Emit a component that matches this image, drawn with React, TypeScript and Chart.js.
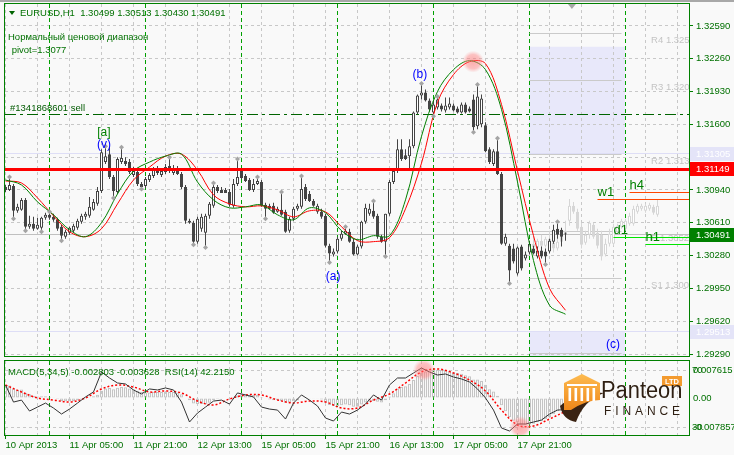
import React, { useEffect, useRef } from 'react';
import { Chart, registerables } from 'chart.js';

Chart.register(...registerables);

// ---------------- data ----------------
const symbol = 'EURUSD,H1';

const opens = [
  1.3097, 1.3094, 1.3098, 1.3073, 1.3074, 1.3084, 1.3057, 1.3060, 1.3055, 1.3056,
  1.3066, 1.3069, 1.3067, 1.3064, 1.3057, 1.3047, 1.3051, 1.3053, 1.3056, 1.3062,
  1.3067, 1.3068, 1.3074, 1.3080, 1.3093, 1.3122, 1.3130, 1.3107, 1.3092, 1.3122,
  1.3123, 1.3122, 1.3109, 1.3112, 1.3100, 1.3098, 1.3104, 1.3108, 1.3115, 1.3109,
  1.3112, 1.3118, 1.3111, 1.3116, 1.3110, 1.3097, 1.3063, 1.3061, 1.3042, 1.3055,
  1.3051, 1.3068, 1.3078, 1.3097, 1.3094, 1.3094, 1.3092, 1.3078, 1.3100, 1.3113,
  1.3108, 1.3104, 1.3094, 1.3100, 1.3102, 1.3079, 1.3078, 1.3078, 1.3072, 1.3074,
  1.3072, 1.3053, 1.3065, 1.3075, 1.3077, 1.3097, 1.3090, 1.3083, 1.3072, 1.3072,
  1.3068, 1.3038, 1.3029, 1.3032, 1.3045, 1.3050, 1.3052, 1.3042, 1.3029, 1.3037,
  1.3062, 1.3070, 1.3073, 1.3068, 1.3047, 1.3042, 1.3070, 1.3102, 1.3113, 1.3135,
  1.3129, 1.3128, 1.3138, 1.3172, 1.3189, 1.3192, 1.3184, 1.3172, 1.3177, 1.3179,
  1.3174, 1.3177, 1.3179, 1.3176, 1.3172, 1.3180, 1.3176, 1.3185, 1.3158, 1.3160,
  1.3159, 1.3135, 1.3120, 1.3133, 1.3110, 1.3040, 1.3038, 1.3035, 1.3010, 1.3037,
  1.3025, 1.3031, 1.3035, 1.3027, 1.3033, 1.3032, 1.3032, 1.3042, 1.3055, 1.3054, 1.30499,
];
const highs = [
  1.3099, 1.3107, 1.3100, 1.3080, 1.3086, 1.3086, 1.3068, 1.3067, 1.3066, 1.3067,
  1.3071, 1.3072, 1.3070, 1.3066, 1.3059, 1.3054, 1.3057, 1.3060, 1.3065, 1.3070,
  1.3072, 1.3087, 1.3085, 1.3097, 1.3135, 1.3138, 1.3137, 1.3109, 1.3127, 1.3137,
  1.3127, 1.3125, 1.3117, 1.3115, 1.3102, 1.3107, 1.3111, 1.3117, 1.3118, 1.3115,
  1.3120, 1.3127, 1.3119, 1.3118, 1.3112, 1.3099, 1.3065, 1.3063, 1.3067, 1.3070,
  1.3070, 1.3082, 1.3101, 1.3099, 1.3097, 1.3096, 1.3095, 1.3105, 1.3125, 1.3115,
  1.3110, 1.3106, 1.3105, 1.3107, 1.3104, 1.3081, 1.3080, 1.3081, 1.3077, 1.3092,
  1.3074, 1.3067, 1.3077, 1.3080, 1.3108, 1.3100, 1.3093, 1.3085, 1.3080, 1.3075,
  1.3070, 1.3040, 1.3035, 1.3047, 1.3053, 1.3057, 1.3055, 1.3045, 1.3039, 1.3063,
  1.3080, 1.3080, 1.3083, 1.3070, 1.3049, 1.3070, 1.3104, 1.3113, 1.3145, 1.3145,
  1.3135, 1.3145, 1.3173, 1.3190, 1.3201, 1.3195, 1.3186, 1.3185, 1.3188, 1.3181,
  1.3187, 1.3187, 1.3181, 1.3178, 1.3182, 1.3182, 1.3178, 1.3190, 1.3200, 1.3190,
  1.3162, 1.3137, 1.3135, 1.3146, 1.3112, 1.3050, 1.3040, 1.3040, 1.3037, 1.3039,
  1.3032, 1.3043, 1.3038, 1.3037, 1.3037, 1.3035, 1.3045, 1.3059, 1.3062, 1.3056, 1.30513,
];
const lows = [
  1.3092, 1.3093, 1.3065, 1.3071, 1.3073, 1.3053, 1.3055, 1.3053, 1.3054, 1.3052,
  1.3064, 1.3064, 1.3062, 1.3053, 1.3043, 1.3045, 1.3049, 1.3051, 1.3054, 1.3060,
  1.3064, 1.3066, 1.3073, 1.3078, 1.3091, 1.3120, 1.3105, 1.3086, 1.3090, 1.3120,
  1.3118, 1.3110, 1.3107, 1.3098, 1.3095, 1.3096, 1.3102, 1.3106, 1.3109, 1.3107,
  1.3110, 1.3111, 1.3109, 1.3109, 1.3095, 1.3060, 1.3060, 1.3039, 1.3040, 1.3052,
  1.3036, 1.3065, 1.3076, 1.3091, 1.3091, 1.3091, 1.3077, 1.3076, 1.3098, 1.3105,
  1.3102, 1.3093, 1.3092, 1.3099, 1.3077, 1.3065, 1.3074, 1.3070, 1.3071, 1.3068,
  1.3051, 1.3051, 1.3063, 1.3073, 1.3075, 1.3083, 1.3082, 1.3077, 1.3070, 1.3065,
  1.3036, 1.3021, 1.3027, 1.3030, 1.3043, 1.3049, 1.3041, 1.3028, 1.3028, 1.3035,
  1.3060, 1.3068, 1.3065, 1.3045, 1.3041, 1.3027, 1.3068, 1.3100, 1.3111, 1.3123,
  1.3124, 1.3113, 1.3136, 1.3170, 1.3185, 1.3183, 1.3173, 1.3168, 1.3175, 1.3173,
  1.3172, 1.3175, 1.3173, 1.3171, 1.3171, 1.3171, 1.3172, 1.3152, 1.3155, 1.3157,
  1.3132, 1.3120, 1.3118, 1.3109, 1.3039, 1.3038, 1.3000, 1.3020, 1.3008, 1.3013,
  1.3023, 1.3029, 1.3029, 1.3025, 1.3025, 1.3019, 1.3030, 1.3040, 1.3045, 1.3037, 1.30430,
];
const closes = [
  1.3094, 1.3099, 1.3073, 1.3077, 1.3084, 1.3057, 1.3060, 1.3055, 1.3059, 1.3066,
  1.3069, 1.3066, 1.3064, 1.3055, 1.3048, 1.3052, 1.3056, 1.3058, 1.3063, 1.3068,
  1.3070, 1.3077, 1.3082, 1.3093, 1.3132, 1.3128, 1.3107, 1.3093, 1.3125, 1.3126,
  1.3120, 1.3112, 1.3113, 1.3100, 1.3097, 1.3105, 1.3109, 1.3115, 1.3111, 1.3113,
  1.3117, 1.3113, 1.3115, 1.3110, 1.3097, 1.3063, 1.3061, 1.3042, 1.3065, 1.3067,
  1.3068, 1.3080, 1.3097, 1.3093, 1.3091, 1.3091, 1.3079, 1.3100, 1.3107, 1.3106,
  1.3103, 1.3094, 1.3100, 1.3103, 1.3078, 1.3075, 1.3075, 1.3071, 1.3075, 1.3069,
  1.3052, 1.3065, 1.3075, 1.3078, 1.3095, 1.3085, 1.3083, 1.3078, 1.3078, 1.3067,
  1.3038, 1.3030, 1.3032, 1.3045, 1.3050, 1.3053, 1.3042, 1.3029, 1.3037, 1.3062,
  1.3076, 1.3075, 1.3067, 1.3047, 1.3042, 1.3070, 1.3102, 1.3113, 1.3135, 1.3125,
  1.3125, 1.3138, 1.3172, 1.3189, 1.3192, 1.3184, 1.3175, 1.3180, 1.3185, 1.3175,
  1.3179, 1.3181, 1.3174, 1.3172, 1.3180, 1.3172, 1.3173, 1.3157, 1.3188, 1.3186,
  1.3133, 1.3122, 1.3133, 1.3110, 1.3040, 1.3047, 1.3013, 1.3022, 1.3036, 1.3015,
  1.3029, 1.3040, 1.3030, 1.3033, 1.3027, 1.3027, 1.3043, 1.3054, 1.3049, 1.3047, 1.30491,
];

// faint projected (analog) candles, starting at bar 131
const ghostFirstBar = 131;
const ghostOpens = [1.3035, 1.3040, 1.3036, 1.3043, 1.3038, 1.3045, 1.3041, 1.3035, 1.3042, 1.3053, 1.3063, 1.3078, 1.3072, 1.3057, 1.3041, 1.3049, 1.3059, 1.3051, 1.3049, 1.3029, 1.3040, 1.3040, 1.3052, 1.3057, 1.3055, 1.3060, 1.3060, 1.3072, 1.3075, 1.3073, 1.3075, 1.3077, 1.3069];
const ghostHighs = [1.3042, 1.3047, 1.3045, 1.3049, 1.3047, 1.3053, 1.3049, 1.3045, 1.3055, 1.3063, 1.3085, 1.3082, 1.3075, 1.3061, 1.3053, 1.3063, 1.3061, 1.3055, 1.3053, 1.3045, 1.3055, 1.3060, 1.3060, 1.3065, 1.3065, 1.3071, 1.3078, 1.3080, 1.3080, 1.3080, 1.3081, 1.3079, 1.3084];
const ghostLows = [1.3030, 1.3033, 1.3034, 1.3035, 1.3036, 1.3039, 1.3031, 1.3033, 1.3040, 1.3045, 1.3058, 1.3070, 1.3053, 1.3035, 1.3039, 1.3045, 1.3045, 1.3035, 1.3023, 1.3027, 1.3037, 1.3038, 1.3050, 1.3055, 1.3053, 1.3058, 1.3058, 1.3070, 1.3073, 1.3071, 1.3073, 1.3069, 1.3067];
const ghostCloses = [1.3040, 1.3036, 1.3043, 1.3038, 1.3045, 1.3041, 1.3035, 1.3042, 1.3053, 1.3049, 1.3078, 1.3072, 1.3055, 1.3039, 1.3049, 1.3061, 1.3047, 1.3038, 1.3027, 1.3040, 1.3050, 1.3057, 1.3058, 1.3063, 1.3063, 1.3068, 1.3075, 1.3078, 1.3078, 1.3078, 1.3079, 1.3071, 1.3078];

// moving averages, read every 4 bars
const maBars = [0, 4, 8, 12, 16, 20, 24, 28, 32, 36, 40, 44, 48, 52, 56, 60, 64, 68, 72, 76, 80, 84, 88, 92, 96, 100, 104, 108, 112, 116, 120, 124, 128, 132, 136, 140];
const maGreen = [1.3104, 1.3099, 1.3082, 1.3069, 1.3054, 1.3047, 1.3061, 1.3090, 1.3113, 1.3122, 1.3128, 1.3130, 1.3102, 1.3084, 1.3076, 1.3077, 1.3079, 1.3069, 1.3064, 1.3076, 1.3071, 1.3053, 1.3044, 1.3048, 1.3048, 1.3084, 1.3148, 1.3193, 1.3215, 1.3224, 1.3215, 1.3175, 1.3102, 1.3023, 1.2978, 1.2969];
const maRed = [1.3103, 1.3101, 1.3086, 1.3068, 1.3052, 1.3047, 1.3055, 1.3080, 1.3104, 1.3117, 1.3128, 1.3130, 1.3114, 1.3089, 1.3080, 1.3077, 1.3078, 1.3074, 1.3067, 1.3073, 1.3072, 1.3057, 1.3043, 1.3042, 1.3046, 1.3075, 1.3121, 1.3182, 1.3210, 1.3223, 1.3221, 1.3180, 1.3113, 1.3048, 1.2995, 1.2973];

const fractalUpBars = [1, 11, 25, 29, 41, 52, 58, 63, 69, 74, 85, 92, 104, 108, 118, 123, 138];
const fractalDownBars = [2, 5, 9, 14, 27, 34, 47, 50, 65, 81, 95, 107, 117, 126, 135];

// indicator window
const rsiBars = Array.from({ length: 71 }, (_, k) => k * 2);
const rsiValues = [
  59.5, 47.5, 48.9, 41.2, 44.0, 46.8, 43.3, 39.1, 42.6, 46.8,
  51.1, 54.6, 68.6, 64.4, 60.9, 60.2, 56.0, 53.2, 56.7, 56.0,
  57.4, 56.0, 47.5, 33.5, 39.8, 44.0, 48.2, 48.9, 46.1, 53.9,
  52.5, 51.1, 44.0, 42.6, 41.9, 35.6, 46.8, 52.5, 48.9, 44.7,
  36.3, 34.2, 40.5, 39.1, 41.9, 46.1, 52.5, 48.9, 59.5, 64.4,
  64.4, 67.9, 71.4, 68.6, 66.5, 67.2, 65.1, 63.7, 61.6, 56.7,
  50.4, 41.9, 29.3, 27.2, 32.1, 32.1, 33.5, 34.9, 39.1, 41.9, 42.2,
];
const signalValues = [0.00354, 0.00163, 0.0, -0.00054, -0.00109, 0.0, 0.00245, 0.00354, 0.00299, 0.00163, 0.0019, 0.00136, -0.00082, -0.0019, -0.00027, 0.00082, 0.00082, -0.00054, -0.00136, -0.00082, -0.00109, -0.00272, -0.00272, -0.00054, 0.00109, 0.00408, 0.00707, 0.00789, 0.0068, 0.0049, 0.0019, -0.00326, -0.00734, -0.00761, -0.00571, -0.003628];
const macdValues = [
  0.0036, 0.0034, 0.0025, 0.0022, 0.0023, 0.0014, 0.0010, 0.0006, 0.0004, 0.0005,
  0.0005, 0.0003, 0.0001, -0.0003, -0.0008, -0.0009, -0.0009, -0.0008, -0.0006, -0.0003,
  -0.0001, 0.0002, 0.0005, 0.0009, 0.0020, 0.0026, 0.0027, 0.0024, 0.0028, 0.0030,
  0.0029, 0.0026, 0.0024, 0.0020, 0.0016, 0.0015, 0.0015, 0.0017, 0.0016, 0.0016,
  0.0017, 0.0016, 0.0016, 0.0015, 0.0010, 0.0000, -0.0006, -0.0015, -0.0016, -0.0016,
  -0.0017, -0.0013, -0.0006, -0.0003, -0.0001, 0.0000, -0.0003, 0.0002, 0.0007, 0.0010,
  0.0010, 0.0008, 0.0008, 0.0009, 0.0003, -0.0002, -0.0004, -0.0006, -0.0006, -0.0008,
  -0.0013, -0.0012, -0.0009, -0.0007, -0.0001, 0.0000, -0.0001, -0.0002, -0.0002, -0.0004,
  -0.0012, -0.0019, -0.0022, -0.0022, -0.0020, -0.0018, -0.0020, -0.0024, -0.0024, -0.0018,
  -0.0012, -0.0009, -0.0008, -0.0010, -0.0012, -0.0006, 0.0004, 0.0013, 0.0026, 0.0030,
  0.0032, 0.0038, 0.0049, 0.0060, 0.0068, 0.0072, 0.0075, 0.0076, 0.0077, 0.0076,
  0.0075, 0.0073, 0.0070, 0.0068, 0.0066, 0.0062, 0.0059, 0.0050, 0.0050, 0.0046,
  0.0036, 0.0024, 0.0018, 0.0006, -0.0020, -0.0036, -0.0052, -0.0062, -0.0066, -0.0072,
  -0.0073, -0.0072, -0.0070, -0.0066, -0.0063, -0.0058, -0.0052, -0.0044, -0.0036, -0.0031, -0.002803,
];
const rsiLast = 42.215;

const priceTicks = [1.3259, 1.3226, 1.3193, 1.316, 1.3127, 1.3094, 1.3061, 1.3028, 1.2995, 1.2962, 1.2929];
const macdTicks = [0.007615, 0, -0.007857];
const rsiLevels = [70, 30];
const timeTickBars = [0, 16, 32, 48, 64, 80, 96, 112, 128];
const timeTickLabels = ['10 Apr 2013', '11 Apr 05:00', '11 Apr 21:00', '12 Apr 13:00', '15 Apr 05:00', '15 Apr 21:00', '16 Apr 13:00', '17 Apr 05:00', '17 Apr 21:00'];
const daySeparatorBars = [11, 35, 59, 83, 107, 131, 155];

const resistanceLine = 1.31149;
const sellOrderPrice = 1.317;
const sellOrderLabel = '#1341868601 sell';
const rangeLines = [1.31305, 1.29513];
const pivotValue = 1.3077;
const rangeBoxes = [
  { fromBar: 131, toBar: 155, high: 1.3238, low: 1.31305 },
  { fromBar: 131, toBar: 155, high: 1.29513, low: 1.29 },
];
const pivotLevels = [
  { name: 'R4', price: 1.3251 },
  { name: 'R3', price: 1.3204 },
  { name: 'R2', price: 1.313 },
  { name: 'P', price: 1.3052 },
  { name: 'S1', price: 1.3005 },
  { name: 'S2', price: 1.293 },
];
const tfLevels = [
  { name: 'w1', price: 1.3084, fromBar: 148, kind: 'res' },
  { name: 'h4', price: 1.3091, fromBar: 156, kind: 'res' },
  { name: 'd1', price: 1.3046, fromBar: 152, kind: 'sup' },
  { name: 'h1', price: 1.3039, fromBar: 160, kind: 'sup' },
];
const waveLabels = [
  { text: '[a]', bar: 24.6, price: 1.3152, kind: 'green' },
  { text: '(v)', bar: 24.6, price: 1.314, kind: 'blue' },
  { text: '(a)', bar: 81.9, price: 1.3007, kind: 'blue' },
  { text: '(b)', bar: 103.6, price: 1.321, kind: 'blue' },
  { text: '(c)', bar: 151.9, price: 1.2938, kind: 'blue' },
];
const priceHighlights = [{ bar: 116.9, price: 1.3223 }];
const rsiHighlights = [{ bar: 104.6, value: 70 }, { bar: 128.7, value: 30 }];

// ---------------- styles ----------------
const FONT = '"Liberation Sans", Arial, sans-serif';
const BG = '#f9f9f9';
const GREEN = '#008000';
const SEP_GREEN = '#00a000';
const TEXT_GREEN = '#007000';
const GRID = '#c8c8c8';
const CANDLE = '#444444';
const GHOST = '#d6d6d6';
const LAV = '#e8e8fa';
const LAV_LABEL = '#e4e4f8';
const X_MIN = -0.125;
const X_MAX = 170.875;
const P_MIN = 1.2927;
const P_MAX = 1.3281;
const M_LIM = 0.010063;
const RSI_MIN = 24.39;
const RSI_MAX = 76.32;

const crisp = (v: number) => Math.round(v - 0.5) + 0.5;

function glow(ctx: any, x: number, y: number) {
  const g = ctx.createRadialGradient(x, y, 0, x, y, 11);
  g.addColorStop(0, 'rgba(255,110,110,0.55)');
  g.addColorStop(0.65, 'rgba(255,125,125,0.45)');
  g.addColorStop(1, 'rgba(255,160,160,0)');
  ctx.fillStyle = g;
  ctx.beginPath();
  ctx.arc(x, y, 11, 0, Math.PI * 2);
  ctx.fill();
}

function drawVerticalGrid(ctx: any, xs: any, a: any) {
  ctx.lineWidth = 1;
  ctx.strokeStyle = GRID;
  ctx.setLineDash([3, 3]);
  for (let b = 0; b <= X_MAX; b += 8) {
    const px = crisp(xs.getPixelForValue(b));
    ctx.beginPath(); ctx.moveTo(px, a.top); ctx.lineTo(px, a.bottom); ctx.stroke();
  }
  ctx.strokeStyle = SEP_GREEN;
  ctx.setLineDash([4, 3]);
  daySeparatorBars.forEach((b) => {
    const px = crisp(xs.getPixelForValue(b));
    ctx.beginPath(); ctx.moveTo(px, a.top); ctx.lineTo(px, a.bottom); ctx.stroke();
  });
  ctx.setLineDash([]);
}

const mainDecor = {
  id: 'mainDecor',
  beforeDatasetsDraw(chart: any) {
    const { ctx, chartArea: a } = chart;
    const xs = chart.scales.x;
    const ys = chart.scales.y;
    ctx.save();
    ctx.beginPath();
    ctx.rect(a.left, a.top, a.right - a.left, a.bottom - a.top);
    ctx.clip();
    ctx.fillStyle = LAV;
    rangeBoxes.forEach((b) => {
      const x1 = xs.getPixelForValue(b.fromBar);
      const x2 = xs.getPixelForValue(b.toBar);
      const y1 = ys.getPixelForValue(b.high);
      const y2 = ys.getPixelForValue(b.low);
      ctx.fillRect(Math.floor(x1), y1, Math.round(x2 - x1), y2 - y1);
    });
    // horizontal grid
    ctx.lineWidth = 1;
    ctx.strokeStyle = GRID;
    ctx.setLineDash([3, 3]);
    priceTicks.forEach((p) => {
      const py = crisp(ys.getPixelForValue(p));
      ctx.beginPath(); ctx.moveTo(a.left, py); ctx.lineTo(a.right, py); ctx.stroke();
    });
    drawVerticalGrid(ctx, xs, a);
    // pivot levels
    ctx.strokeStyle = '#cacaca';
    ctx.font = `9.5px ${FONT}`;
    ctx.textBaseline = 'top';
    ctx.textAlign = 'left';
    pivotLevels.forEach((p) => {
      const py = crisp(ys.getPixelForValue(p.price));
      ctx.beginPath();
      ctx.moveTo(xs.getPixelForValue(131), py);
      ctx.lineTo(xs.getPixelForValue(154), py);
      ctx.stroke();
      ctx.fillStyle = '#c4c4c4';
      ctx.fillText(`${p.name} ${p.price.toFixed(4)}`, xs.getPixelForValue(161.4), py + 2);
    });
    // range lines
    ctx.strokeStyle = '#dedef6';
    rangeLines.forEach((p) => {
      const py = crisp(ys.getPixelForValue(p));
      ctx.beginPath(); ctx.moveTo(a.left, py); ctx.lineTo(a.right, py); ctx.stroke();
    });
    // bid line
    ctx.strokeStyle = '#c0c0c0';
    const bidY = crisp(ys.getPixelForValue(closes[closes.length - 1]));
    ctx.beginPath(); ctx.moveTo(a.left, bidY); ctx.lineTo(a.right, bidY); ctx.stroke();
    // sell order line
    ctx.strokeStyle = '#006400';
    ctx.setLineDash([11, 4, 3, 4]);
    const oy = crisp(ys.getPixelForValue(sellOrderPrice));
    ctx.beginPath(); ctx.moveTo(a.left, oy); ctx.lineTo(a.right, oy); ctx.stroke();
    ctx.setLineDash([]);
    ctx.restore();
  },
  afterDatasetsDraw(chart: any) {
    const { ctx, chartArea: a } = chart;
    const xs = chart.scales.x;
    const ys = chart.scales.y;
    ctx.save();
    ctx.beginPath();
    ctx.rect(a.left, a.top, a.right - a.left, a.bottom - a.top);
    ctx.clip();
    // resistance line
    ctx.fillStyle = '#ff0000';
    const ry = ys.getPixelForValue(resistanceLine);
    ctx.fillRect(a.left, Math.round(ry) - 1, a.right - a.left, 3);
    // timeframe levels
    ctx.lineWidth = 1;
    tfLevels.forEach((l) => {
      const py = crisp(ys.getPixelForValue(l.price));
      const x0 = xs.getPixelForValue(l.fromBar);
      ctx.strokeStyle = l.kind === 'res' ? '#ff4500' : '#00e600';
      ctx.beginPath(); ctx.moveTo(x0, py); ctx.lineTo(a.right, py); ctx.stroke();
      ctx.fillStyle = GREEN;
      ctx.font = `13px ${FONT}`;
      ctx.textAlign = 'left';
      ctx.textBaseline = 'alphabetic';
      ctx.fillText(l.name, x0, py - 4);
    });
    // highlights
    priceHighlights.forEach((h) => glow(ctx, xs.getPixelForValue(h.bar), ys.getPixelForValue(h.price)));
    // wave labels
    ctx.font = `12px ${FONT}`;
    ctx.textAlign = 'center';
    ctx.textBaseline = 'middle';
    waveLabels.forEach((w) => {
      ctx.fillStyle = w.kind === 'green' ? GREEN : '#0000ff';
      ctx.fillText(w.text, xs.getPixelForValue(w.bar), ys.getPixelForValue(w.price));
    });
    // text block
    ctx.textAlign = 'left';
    ctx.font = `9.5px ${FONT}`;
    ctx.fillStyle = TEXT_GREEN;
    const n = closes.length - 1;
    ctx.fillText(`${symbol}  ${opens[n].toFixed(5)} ${highs[n].toFixed(5)} ${lows[n].toFixed(5)} ${closes[n].toFixed(5)}`, 20, 13);
    ctx.fillText('Нормальный ценовой диапазон', 8, 37);
    ctx.fillText(` pivot=${pivotValue}`, 9, 50);
    ctx.textBaseline = 'bottom';
    ctx.fillStyle = '#005a00';
    ctx.fillText(sellOrderLabel, 10, Math.round(ys.getPixelForValue(sellOrderPrice)) - 1);
    // title triangle
    ctx.fillStyle = '#006400';
    ctx.beginPath(); ctx.moveTo(9, 11); ctx.lineTo(15, 11); ctx.lineTo(12, 15); ctx.closePath(); ctx.fill();
    // chart shift marker
    const sx = xs.getPixelForValue(141.6);
    ctx.fillStyle = '#a8a8a8';
    ctx.beginPath(); ctx.moveTo(sx - 4, 4); ctx.lineTo(sx + 4, 4); ctx.lineTo(sx, 9); ctx.closePath(); ctx.fill();
    ctx.restore();
  },
  afterDraw(chart: any) {
    const { ctx, chartArea: a } = chart;
    const ys = chart.scales.y;
    ctx.save();
    const boxes = [
      { price: rangeLines[0], bg: LAV_LABEL },
      { price: resistanceLine, bg: '#ff0000' },
      { price: closes[closes.length - 1], bg: GREEN },
      { price: rangeLines[1], bg: LAV_LABEL },
    ];
    ctx.font = `9.5px ${FONT}`;
    ctx.textBaseline = 'middle';
    ctx.textAlign = 'left';
    boxes.forEach((b) => {
      const py = Math.round(ys.getPixelForValue(b.price));
      ctx.fillStyle = b.bg;
      ctx.fillRect(a.right + 1, py - 7, 734 - a.right - 1, 14);
      ctx.fillStyle = '#ffffff';
      ctx.fillText(b.price.toFixed(5), a.right + 7, py + 0.5);
    });
    ctx.strokeStyle = GREEN;
    ctx.lineWidth = 1;
    ctx.strokeRect(a.left - 0.5, a.top - 0.5, a.right - a.left + 1, a.bottom - a.top + 1);
    ctx.restore();
  },
};

function drawLogo(ctx: any) {
  ctx.save();
  // dark swoosh
  ctx.fillStyle = '#3a2313';
  ctx.beginPath();
  ctx.moveTo(560, 46);
  ctx.quadraticCurveTo(578, 30, 604, 33);
  ctx.quadraticCurveTo(584, 40, 576, 62);
  ctx.quadraticCurveTo(563, 60, 560, 46);
  ctx.closePath();
  ctx.fill();
  // orange temple
  const g = ctx.createLinearGradient(0, 14, 0, 48);
  g.addColorStop(0, '#fdbb50');
  g.addColorStop(1, '#f08a1c');
  ctx.fillStyle = g;
  ctx.beginPath();
  ctx.moveTo(564, 23);
  ctx.lineTo(582, 14);
  ctx.lineTo(600, 23);
  ctx.lineTo(600, 40);
  ctx.quadraticCurveTo(586, 40, 571, 50);
  ctx.lineTo(564, 50);
  ctx.closePath();
  ctx.fill();
  ctx.fillStyle = '#ffffff';
  ctx.fillRect(567, 24, 30, 2);
  for (let k = 0; k < 5; k++) ctx.fillRect(568.5 + k * 6, 28, 2.6, 13);
  // LTD
  ctx.fillStyle = '#f39a2e';
  ctx.fillRect(662, 16, 20, 10);
  ctx.fillStyle = '#ffffff';
  ctx.font = `bold 7.5px ${FONT}`;
  ctx.textAlign = 'center';
  ctx.textBaseline = 'middle';
  ctx.fillText('LTD', 672, 21.5);
  // words
  ctx.fillStyle = '#2e1f12';
  ctx.textAlign = 'left';
  ctx.textBaseline = 'alphabetic';
  ctx.save();
  ctx.translate(601, 37.5);
  ctx.scale(0.93, 1);
  ctx.font = `23.5px ${FONT}`;
  ctx.fillText('Panteon', 0, 0);
  ctx.restore();
  ctx.font = `12px ${FONT}`;
  const word = 'FINANCE';
  let x = 604;
  for (const ch of word) {
    ctx.fillText(ch, x, 54.5);
    x += ctx.measureText(ch).width + 3.9;
  }
  ctx.restore();
}

const subDecor = {
  id: 'subDecor',
  beforeDatasetsDraw(chart: any) {
    const { ctx, chartArea: a } = chart;
    const xs = chart.scales.x;
    const yr = chart.scales.yr;
    ctx.save();
    ctx.beginPath();
    ctx.rect(a.left, a.top, a.right - a.left, a.bottom - a.top);
    ctx.clip();
    ctx.lineWidth = 1;
    ctx.strokeStyle = GRID;
    ctx.setLineDash([3, 3]);
    rsiLevels.forEach((v) => {
      const py = crisp(yr.getPixelForValue(v));
      ctx.beginPath(); ctx.moveTo(a.left, py); ctx.lineTo(a.right, py); ctx.stroke();
    });
    drawVerticalGrid(ctx, xs, a);
    ctx.restore();
  },
  afterDatasetsDraw(chart: any) {
    const { ctx, chartArea: a } = chart;
    const xs = chart.scales.x;
    const yr = chart.scales.yr;
    ctx.save();
    ctx.beginPath();
    ctx.rect(a.left, a.top, a.right - a.left, a.bottom - a.top);
    ctx.clip();
    rsiHighlights.forEach((h) => glow(ctx, xs.getPixelForValue(h.bar), yr.getPixelForValue(h.value)));
    ctx.fillStyle = TEXT_GREEN;
    ctx.font = `9.5px ${FONT}`;
    ctx.textBaseline = 'middle';
    ctx.textAlign = 'left';
    const m = macdValues[macdValues.length - 1];
    const s = signalValues[signalValues.length - 1];
    ctx.fillText(`MACD(5,34,5) ${m.toFixed(6)} ${s.toFixed(6)}  RSI(14) ${rsiLast.toFixed(4)}`, 8, 12);
    drawLogo(ctx);
    ctx.restore();
  },
  afterDraw(chart: any) {
    const { ctx, chartArea: a } = chart;
    const yr = chart.scales.yr;
    ctx.save();
    ctx.fillStyle = TEXT_GREEN;
    ctx.font = `9.5px ${FONT}`;
    ctx.textBaseline = 'middle';
    ctx.textAlign = 'left';
    rsiLevels.forEach((v) => ctx.fillText(String(v), a.right + 3, yr.getPixelForValue(v)));
    ctx.strokeStyle = GREEN;
    ctx.lineWidth = 1;
    ctx.strokeRect(a.left - 0.5, a.top - 0.5, a.right - a.left + 1, a.bottom - a.top + 1);
    ctx.restore();
  },
};

function mainConfig(): any {
  const bodyData = opens.map((o, i) => ({ x: i, y: [o, closes[i]] }));
  const bodyFill = opens.map((o, i) => (closes[i] >= o ? '#ffffff' : CANDLE));
  const wickData = highs.map((h, i) => ({ x: i, y: [lows[i], h] }));
  const gBody = ghostOpens.map((o, k) => ({ x: ghostFirstBar + k, y: [o, ghostCloses[k]] }));
  const gFill = ghostOpens.map((o, k) => (ghostCloses[k] >= o ? '#ffffff' : GHOST));
  const gWick = ghostHighs.map((h, k) => ({ x: ghostFirstBar + k, y: [ghostLows[k], h] }));
  const fractals = [
    ...fractalUpBars.map((b) => ({ x: b, y: highs[b] })),
    ...fractalDownBars.map((b) => ({ x: b, y: lows[b] })),
  ];
  const barCommon = { grouped: false, inflateAmount: 0, borderSkipped: false };
  return {
    type: 'bar',
    data: {
      datasets: [
        { type: 'line', label: 'fractals', data: fractals, showLine: false, pointStyle: 'rectRot', pointRadius: 2.5, pointBackgroundColor: '#a4a4a4', pointBorderWidth: 0, order: 0 },
        { type: 'line', label: 'MA fast', data: maBars.map((b, k) => ({ x: b, y: maGreen[k] })), borderColor: '#008000', borderWidth: 1, pointRadius: 0, tension: 0.35, order: 1 },
        { type: 'line', label: 'MA slow', data: maBars.map((b, k) => ({ x: b, y: maRed[k] })), borderColor: '#ff0000', borderWidth: 1, pointRadius: 0, tension: 0.35, order: 2 },
        { type: 'bar', label: 'bodies', data: bodyData, backgroundColor: bodyFill, borderColor: CANDLE, borderWidth: 1, barThickness: 3, minBarLength: 1, order: 3, ...barCommon },
        { type: 'bar', label: 'wicks', data: wickData, backgroundColor: CANDLE, borderWidth: 0, barThickness: 1, order: 4, ...barCommon },
        { type: 'bar', label: 'ghost bodies', data: gBody, backgroundColor: gFill, borderColor: GHOST, borderWidth: 1, barThickness: 3, minBarLength: 1, order: 5, ...barCommon },
        { type: 'bar', label: 'ghost wicks', data: gWick, backgroundColor: GHOST, borderWidth: 0, barThickness: 1, order: 6, ...barCommon },
      ],
    },
    options: {
      animation: false,
      responsive: false,
      maintainAspectRatio: false,
      devicePixelRatio: 1,
      events: [],
      layout: { padding: { left: 5, top: 4, right: 0, bottom: 2 } },
      plugins: { legend: { display: false }, tooltip: { enabled: false } },
      scales: {
        x: { type: 'linear', min: X_MIN, max: X_MAX, display: false, offset: false, grid: { offset: false } },
        y: {
          type: 'linear',
          position: 'right',
          min: P_MIN,
          max: P_MAX,
          afterFit: (s: any) => { s.width = 45; s.paddingTop = 0; s.paddingBottom = 0; },
          afterBuildTicks: (s: any) => { s.ticks = priceTicks.map((v) => ({ value: v })); },
          ticks: { color: TEXT_GREEN, font: { family: FONT, size: 9.5 }, padding: 3, callback: (v: any) => Number(v).toFixed(5) },
          grid: { drawOnChartArea: false, drawTicks: true, tickLength: 4, color: GREEN },
          border: { display: false },
        },
      },
    },
    plugins: [mainDecor],
  };
}

function subConfig(): any {
  return {
    type: 'bar',
    data: {
      datasets: [
        { type: 'line', label: 'RSI', data: rsiBars.map((b, k) => ({ x: b, y: rsiValues[k] })), yAxisID: 'yr', borderColor: '#333333', borderWidth: 1, pointRadius: 0, tension: 0, order: 1 },
        { type: 'line', label: 'Signal', data: maBars.map((b, k) => ({ x: b, y: signalValues[k] })), yAxisID: 'y', borderColor: '#ff0000', borderWidth: 1.5, borderDash: [2, 2], pointRadius: 0, tension: 0.35, order: 2 },
        { type: 'bar', label: 'MACD', data: macdValues.map((v, i) => ({ x: i, y: v })), yAxisID: 'y', backgroundColor: 'rgba(0,0,0,0)', borderColor: '#c4c4c4', borderWidth: 1, barThickness: 3, grouped: false, inflateAmount: 0, borderSkipped: false, order: 3 },
      ],
    },
    options: {
      animation: false,
      responsive: false,
      maintainAspectRatio: false,
      devicePixelRatio: 1,
      events: [],
      layout: { padding: { left: 5, top: 1, right: 0, bottom: 0 } },
      plugins: { legend: { display: false }, tooltip: { enabled: false } },
      scales: {
        x: {
          type: 'linear',
          position: 'bottom',
          min: X_MIN,
          max: X_MAX,
          offset: false,
          afterFit: (s: any) => { s.height = 20; s.paddingLeft = 0; s.paddingRight = 0; },
          afterBuildTicks: (s: any) => { s.ticks = timeTickBars.map((v) => ({ value: v })); },
          ticks: {
            color: TEXT_GREEN,
            font: { family: FONT, size: 9.5 },
            align: 'start',
            padding: 1,
            maxRotation: 0,
            minRotation: 0,
            autoSkip: false,
            callback: (_v: any, i: number) => timeTickLabels[i] || '',
          },
          grid: { drawOnChartArea: false, drawTicks: true, tickLength: 4, color: GREEN, offset: false },
          border: { display: false },
        },
        y: {
          type: 'linear',
          position: 'right',
          min: -M_LIM,
          max: M_LIM,
          afterFit: (s: any) => { s.width = 45; s.paddingTop = 0; s.paddingBottom = 0; },
          afterBuildTicks: (s: any) => { s.ticks = macdTicks.map((v) => ({ value: v })); },
          ticks: { color: TEXT_GREEN, font: { family: FONT, size: 9.5 }, padding: 4, callback: (v: any) => (Number(v) === 0 ? '0.00' : Number(v).toFixed(6)) },
          grid: { drawOnChartArea: false, drawTicks: false },
          border: { display: false },
        },
        yr: { type: 'linear', display: false, min: RSI_MIN, max: RSI_MAX },
      },
    },
    plugins: [subDecor],
  };
}

export default function App() {
  const mainRef = useRef<HTMLCanvasElement>(null);
  const subRef = useRef<HTMLCanvasElement>(null);
  useEffect(() => {
    const c1 = new Chart(mainRef.current as any, mainConfig());
    const c2 = new Chart(subRef.current as any, subConfig());
    return () => {
      c1.destroy();
      c2.destroy();
    };
  }, []);
  return (
    <div style={{ position: 'absolute', left: 0, top: 0, width: 734, height: 455, background: BG, overflow: 'hidden' }}>
      <canvas ref={mainRef} width={734} height={360} style={{ position: 'absolute', left: 0, top: 0, width: 734, height: 360 }} />
      <canvas ref={subRef} width={734} height={95} style={{ position: 'absolute', left: 0, top: 360, width: 734, height: 95 }} />
      <div style={{ position: 'absolute', left: 0, top: 0, width: 734, height: 2, background: '#a8a8a8' }} />
    </div>
  );
}
